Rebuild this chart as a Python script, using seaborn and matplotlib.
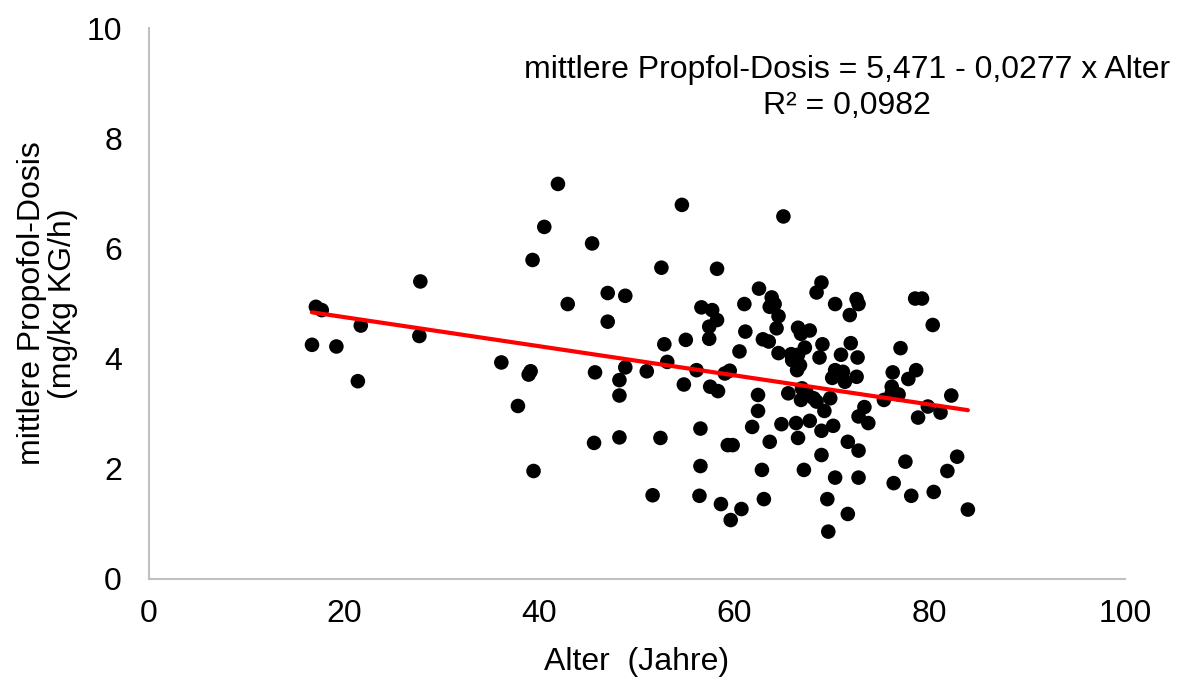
import numpy as np
import pandas as pd
import matplotlib
matplotlib.use("Agg")
import matplotlib.pyplot as plt
import seaborn as sns

alter = [
    17.1, 17.7, 16.7, 19.2, 21.7, 21.4, 27.8, 27.7, 36.1, 39.1, 38.9, 37.8, 39.3, 40.5, 41.9, 42.9, 45.4, 45.7, 45.6, 39.4,
    54.6, 52.5, 58.2, 47.0, 48.8, 47.0, 56.6, 57.7, 58.2, 57.4, 57.4, 55.0, 52.8, 53.1,
    48.8, 48.2, 48.2, 51.0, 56.1, 54.8, 57.5, 58.3, 59.0, 59.5, 48.2, 52.4, 56.5, 59.3, 59.8, 56.5, 51.6, 56.4, 58.6, 59.6,
    65.0, 68.9, 68.4, 62.5, 61.0, 63.8, 64.1, 63.6, 64.5, 70.3, 72.5, 72.7, 71.8, 61.1, 64.3, 62.9, 63.5, 66.5, 66.8, 67.7,
    67.2, 69.0, 71.9, 60.5, 64.5, 65.8, 66.5, 65.9, 68.7, 70.9, 72.6,
    66.4, 66.7, 70.3, 70.0, 71.1, 71.3, 72.5, 62.4, 65.5, 66.9, 67.4, 66.8, 68.1, 68.4, 69.8, 62.4, 69.2, 73.3, 72.7, 61.8,
    64.8, 66.3, 67.7, 68.9, 70.1, 66.5, 63.6, 71.6, 72.7, 68.9, 62.8, 67.1, 70.3, 72.7, 63.0, 69.5, 60.7, 71.6, 69.6,
    78.5, 79.2, 80.3, 77.0, 76.2, 78.6, 77.8, 76.1, 76.8, 75.3, 76.1, 82.2, 79.8, 81.1, 78.8, 73.7, 77.5, 82.8, 81.8, 76.3,
    78.1, 80.4, 83.9,
]
dosis = [
    4.94, 4.88, 4.25, 4.22, 4.60, 3.59, 5.40, 4.41, 3.93, 3.77, 3.71, 3.14, 5.79, 6.39, 7.17, 4.99, 6.09, 3.75, 2.47, 1.96,
    6.79, 5.65, 5.63, 5.19, 5.14, 4.67, 4.93, 4.88, 4.70, 4.58, 4.36, 4.34, 4.26, 3.94,
    3.84, 3.61, 3.33, 3.77, 3.79, 3.53, 3.49, 3.41, 3.73, 3.78, 2.57, 2.56, 2.73, 2.43, 2.43, 2.05, 1.52, 1.51, 1.36, 1.07,
    6.58, 5.38, 5.20, 5.27, 4.99, 5.11, 4.99, 4.94, 4.77, 4.99, 5.08, 4.99, 4.79, 4.49, 4.55, 4.35, 4.31, 4.56, 4.45, 4.51,
    4.20, 4.26, 4.28, 4.13, 4.10, 4.08, 4.07, 3.97, 4.02, 4.07, 4.02,
    3.79, 3.88, 3.79, 3.65, 3.76, 3.58, 3.67, 3.34, 3.37, 3.46, 3.37, 3.25, 3.28, 3.22, 3.28, 3.05, 3.05, 3.12, 2.95, 2.76,
    2.81, 2.83, 2.87, 2.69, 2.78, 2.56, 2.49, 2.49, 2.33, 2.25, 1.98, 1.98, 1.84, 1.84, 1.45, 1.45, 1.27, 1.18, 0.86,
    5.09, 5.09, 4.61, 4.19, 3.75, 3.79, 3.63, 3.49, 3.35, 3.25, 3.37, 3.33, 3.13, 3.02, 2.93, 2.83, 2.13, 2.22, 1.96, 1.74,
    1.51, 1.58, 1.26,
]
x_ticks = [0, 20, 40, 60, 80, 100]
y_ticks = [0, 2, 4, 6, 8, 10]
equation = "mittlere Propfol-Dosis = 5,471 - 0,0277 x Alter"
r2_text = "R² = 0,0982"

df = pd.DataFrame({"Alter": alter, "Dosis": dosis})

sns.set_theme(style="white")
plt.rcParams["font.family"] = ["Liberation Sans", "DejaVu Sans"]

fig = plt.figure(figsize=(11.79, 6.79), dpi=100)
ax = fig.add_axes([149 / 1179, 1 - 579 / 679, (1125 - 149) / 1179, (579 - 28) / 679])

sns.regplot(data=df, x="Alter", y="Dosis", ax=ax, ci=None, truncate=True,
            scatter_kws=dict(s=110, color="black", edgecolor="none", alpha=1, zorder=3),
            line_kws=dict(color="#ff0000", linewidth=3, zorder=4))

ax.set_xlim(0, 100)
ax.set_ylim(0, 10)
ax.set_xticks(x_ticks)
ax.set_yticks(y_ticks)
ax.set_xticklabels([str(v) for v in x_ticks])
ax.set_yticklabels([str(v) for v in y_ticks])

for s in ["top", "right"]:
    ax.spines[s].set_visible(False)
for s in ["left", "bottom"]:
    ax.spines[s].set_color("#c0c0c0")
    ax.spines[s].set_linewidth(1.5)

ax.tick_params(axis="both", direction="inout", length=13, width=1.5, color="#c0c0c0",
               labelsize=23, labelcolor="black")
ax.tick_params(axis="x", pad=8)
ax.tick_params(axis="y", pad=13)

ax.set_xlabel("Alter  (Jahre)", fontsize=23, color="black", labelpad=13)
ax.set_ylabel("mittlere Propofol-Dosis\n(mg/kg KG/h)", fontsize=23, color="black", labelpad=6,
              linespacing=1.05)

fig.text(847 / 1179, 1 - 70 / 679, equation, ha="center", va="center", fontsize=23, color="black")
fig.text(847 / 1179, 1 - 106 / 679, r2_text, ha="center", va="center", fontsize=23, color="black")

fig.savefig("out.png", dpi=100)
